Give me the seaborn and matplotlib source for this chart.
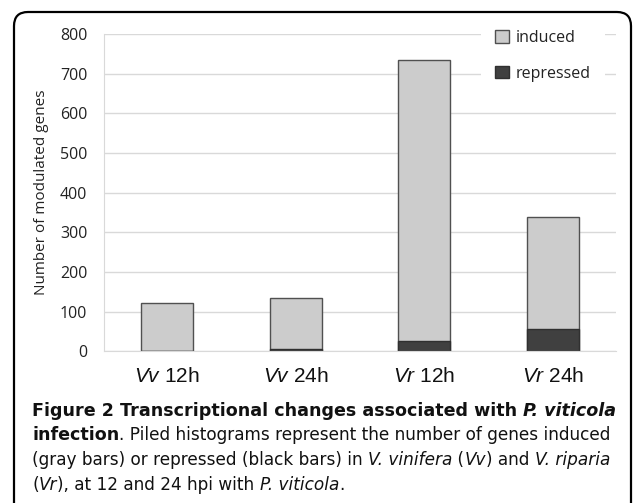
import numpy as np
import pandas as pd
import matplotlib
matplotlib.use('Agg')
import matplotlib.pyplot as plt
import seaborn as sns
from matplotlib.patches import Patch, PathPatch
from matplotlib.path import Path
from matplotlib.transforms import IdentityTransform

# data
samples = ['Vv 12h', 'Vv 24h', 'Vr 12h', 'Vr 24h']
species = ['Vv', 'Vv', 'Vr', 'Vr']
times = ['12h', '24h', '12h', '24h']
induced = [123, 128, 709, 282]
repressed = [0, 7, 26, 56]

gray = '#cccccc'
dark = '#404040'
grid_c = '#d9d9d9'

sns.set_style('white')
plt.rcParams['font.family'] = ['Open Sans', 'DejaVu Sans']
plt.rcParams['mathtext.fontset'] = 'custom'
plt.rcParams['mathtext.it'] = 'Liberation Sans:italic'
plt.rcParams['mathtext.rm'] = 'Liberation Sans'

df = pd.DataFrame({'sample': samples, 'induced': induced, 'repressed': repressed})
df['total'] = df['induced'] + df['repressed']

W, H = 633, 503
fig = plt.figure(figsize=(W/100, H/100), dpi=100)
ax = fig.add_axes([104/W, 1-351.3/H, 512/W, 317.3/H])

sns.barplot(data=df, x='sample', y='total', color=gray, edgecolor='#505050',
            linewidth=1.0, width=0.405, ax=ax, saturation=1)
sns.barplot(data=df, x='sample', y='repressed', color=dark, edgecolor='#303030',
            linewidth=1.0, width=0.405, ax=ax, saturation=1)

ax.set_ylim(0, 800)
ax.set_xlim(-0.49, 3.49)
ax.set_yticks(np.arange(0, 801, 100))
ax.yaxis.grid(True, color=grid_c, linewidth=1.0)
ax.set_axisbelow(True)
for s in ['top', 'right']:
    ax.spines[s].set_visible(False)
ax.spines['left'].set_color(grid_c)
ax.spines['bottom'].set_color(grid_c)
ax.tick_params(axis='y', labelsize=11.5, length=5, width=1, color=grid_c,
               pad=7, labelcolor='#222222')
ax.tick_params(axis='x', length=0, pad=11)
ax.set_xticks(range(len(samples)))
ax.set_xticklabels([r'$\mathit{%s}$ %s' % (sp, t) for sp, t in zip(species, times)],
                   fontsize=15, fontfamily='Liberation Sans', color='#111111')
ax.set_xlabel('')
ax.set_ylabel('Number of modulated genes', fontsize=11, color='#222222')
ax.yaxis.set_label_coords(-(104-49)/512, 0.5)

handles = [Patch(facecolor=gray, edgecolor='#505050', label='induced'),
           Patch(facecolor=dark, edgecolor='#303030', label='repressed')]
leg = ax.legend(handles=handles, loc='upper left', bbox_to_anchor=(481/W, 1-16/H),
                bbox_transform=fig.transFigure, frameon=True, fontsize=11.5,
                handlelength=0.85, handleheight=0.85, handletextpad=0.4,
                labelspacing=1.2, borderpad=0.9, borderaxespad=0, fancybox=False)
leg.get_frame().set_edgecolor('white')
leg.get_frame().set_facecolor('white')
leg.get_frame().set_alpha(1)
leg.get_frame().set_linewidth(0)
for t in leg.get_texts():
    t.set_color('#222222')

# rounded frame, cut by the bottom edge of the picture (pixel coordinates)
x0, x1, top, r = 14, 631, H - 12, 14
verts = [(x0, -20), (x0, top - r), (x0, top), (x0 + r, top), (x1 - r, top),
         (x1, top), (x1, top - r), (x1, -20)]
codes = [Path.MOVETO, Path.LINETO, Path.CURVE3, Path.CURVE3, Path.LINETO,
         Path.CURVE3, Path.CURVE3, Path.LINETO]
frame = PathPatch(Path(verts, codes), transform=IdentityTransform(), fill=False,
                  edgecolor='black', linewidth=1.6, clip_on=False)
fig.patches.append(frame)

size_bold = 12.6
size_norm = 12.15


def rich_line(x, y, parts):
    prev = None
    for txt, w, st in parts:
        kw = dict(fontsize=size_bold if w == 'bold' else size_norm, weight=w, style=st,
                  family='DejaVu Sans', color='#111111')
        if prev is None:
            prev = fig.text(x, y, txt, va='baseline', ha='left', **kw)
        else:
            prev = ax.annotate(txt, xy=(1, 0), xycoords=prev, va='bottom', ha='left',
                               annotation_clip=False, **kw)


lines = [
    [('Figure 2 Transcriptional changes associated with ', 'bold', 'normal'),
     ('P. viticola', 'bold', 'italic')],
    [('infection', 'bold', 'normal'),
     ('. Piled histograms represent the number of genes induced', 'normal', 'normal')],
    [('(gray bars) or repressed (black bars) in ', 'normal', 'normal'),
     ('V. vinifera', 'normal', 'italic'), (' (', 'normal', 'normal'),
     ('Vv', 'normal', 'italic'), (') and ', 'normal', 'normal'),
     ('V. riparia', 'normal', 'italic')],
    [('(', 'normal', 'normal'), ('Vr', 'normal', 'italic'),
     ('), at 12 and 24 hpi with ', 'normal', 'normal'),
     ('P. viticola', 'normal', 'italic'), ('.', 'normal', 'normal')],
]
baselines = [416, 440.5, 465, 489.5]
for parts, yb in zip(lines, baselines):
    rich_line(32/W, 1-yb/H, parts)

fig.savefig('out.png', dpi=100)
